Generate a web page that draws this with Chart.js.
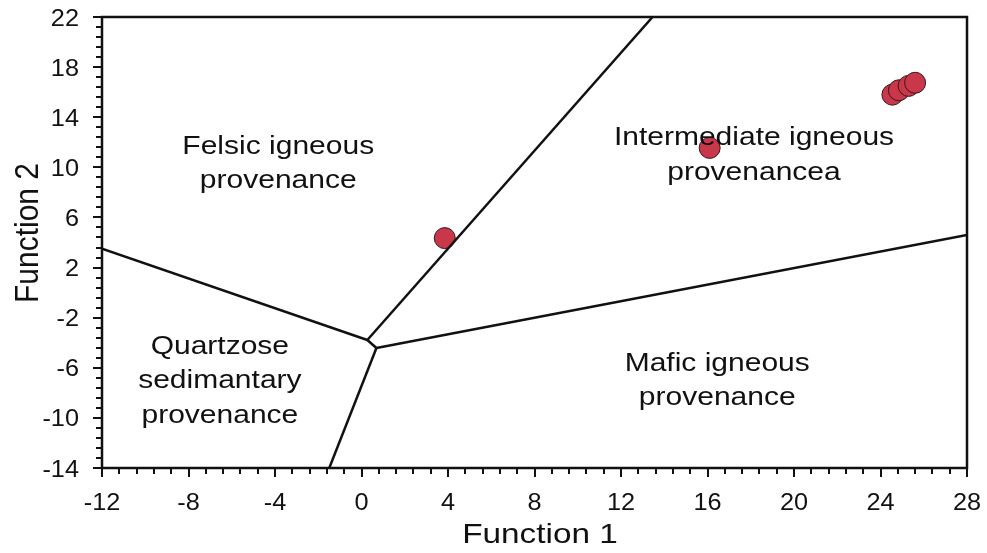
<!DOCTYPE html>
<html>
<head>
<meta charset="utf-8">
<script src="https://cdn.jsdelivr.net/npm/chart.js@4.4.1/dist/chart.umd.min.js"></script>
<style>
    html, body { margin: 0; padding: 0; background: #fff; }
    #wrap { width: 987px; height: 553px; }
</style>
</head>
<body>
<div id="wrap"><canvas id="chart"></canvas></div>
<script>
// Axis ticks
const xTicks = [-12, -8, -4, 0, 4, 8, 12, 16, 20, 24, 28];
const yTicks = [-14, -10, -6, -2, 2, 6, 10, 14, 18, 22];
const minorStep = 0.8;

// Samples (Function 1, Function 2)
const sampleX = [3.85, 16.1, 24.55, 24.85, 25.3, 25.6];
const sampleY = [4.35, 11.55, 15.8, 16.15, 16.5, 16.75];

// Field boundaries
const felsicQuartzX = [-12, 0.27];
const felsicQuartzY = [3.5, -3.78];
const felsicInterX = [0.27, 13.46];
const felsicInterY = [-3.78, 22];
const junctionX = [0.27, 0.69];
const junctionY = [-3.78, -4.42];
const interMaficX = [0.69, 28];
const interMaficY = [-4.42, 4.6];
const quartzMaficX = [0.69, -1.49];
const quartzMaficY = [-4.42, -14];

// Field names
const fieldNames = [
    ['Felsic igneous', 'provenance'],
    ['Intermediate igneous', 'provenancea'],
    ['Quartzose', 'sedimantary', 'provenance'],
    ['Mafic igneous', 'provenance']
];
const fieldX = [-3.85, 18.15, -6.55, 16.45];
const fieldY = [10.25, 10.95, -7.1, -7.05];

const FONT = '"Liberation Sans", Arial, sans-serif';
const toPts = (xs, ys) => xs.map((x, i) => ({ x: x, y: ys[i] }));

const lineSet = (xs, ys) => ({
    data: toPts(xs, ys),
    showLine: true,
    borderColor: '#111',
    borderWidth: 2.5,
    pointRadius: 0,
    fill: false
});

// text drawn a bit wider than the font, like the original
function wideText(ctx, text, x, y, stretch, align) {
    ctx.save();
    ctx.translate(x, y);
    ctx.scale(stretch, 1);
    ctx.textAlign = align || 'center';
    ctx.fillText(text, 0, 0);
    ctx.restore();
}

// Frame, tick marks, tick labels, field names and axis titles
const decor = {
    id: 'decor',
    afterDatasetsDraw(chart) {
        const { ctx, scales: { x, y } } = chart;
        ctx.save();
        ctx.fillStyle = '#111';
        ctx.font = '25px ' + FONT;
        ctx.textBaseline = 'middle';
        fieldNames.forEach((lines, i) => {
            const cx = x.getPixelForValue(fieldX[i]);
            const cy = y.getPixelForValue(fieldY[i]);
            const lh = 34.5;
            lines.forEach((t, j) => {
                wideText(ctx, t, cx, cy + (j - (lines.length - 1) / 2) * lh, 1.2);
            });
        });
        ctx.restore();
    },
    afterDraw(chart) {
        const { ctx, chartArea: a, scales: { x, y } } = chart;
        ctx.save();
        ctx.strokeStyle = '#111';
        ctx.lineWidth = 2.5;
        ctx.strokeRect(a.left, a.top, a.right - a.left, a.bottom - a.top);

        ctx.lineWidth = 2;
        ctx.beginPath();
        for (let i = 0; i <= 50; i++) {
            const v = -12 + i * minorStep;
            const px = Math.round(x.getPixelForValue(v));
            const len = i % 5 === 0 ? 9 : 6;
            ctx.moveTo(px, a.bottom);
            ctx.lineTo(px, a.bottom + len);
        }
        for (let i = 0; i <= 45; i++) {
            const v = -14 + i * minorStep;
            const py = Math.round(y.getPixelForValue(v));
            const len = i % 5 === 0 ? 9 : 6;
            ctx.moveTo(a.left, py);
            ctx.lineTo(a.left - len, py);
        }
        ctx.stroke();

        ctx.fillStyle = '#111';
        ctx.font = '23px ' + FONT;
        ctx.textBaseline = 'alphabetic';
        xTicks.forEach(v => {
            wideText(ctx, String(v), x.getPixelForValue(v), a.bottom + 42, 1.1, 'center');
        });
        yTicks.forEach(v => {
            wideText(ctx, String(v), a.left - 23, y.getPixelForValue(v) + 8.5, 1.1, 'right');
        });

        ctx.font = '28px ' + FONT;
        wideText(ctx, 'Function 1', 540, 543, 1.19, 'center');
        ctx.font = '30px ' + FONT;
        ctx.translate(38, 233);
        ctx.rotate(-Math.PI / 2);
        ctx.scale(1, 1.12);
        ctx.textAlign = 'center';
        ctx.fillText('Function 2', 0, 0);
        ctx.restore();
    }
};

new Chart(document.getElementById('chart'), {
    type: 'scatter',
    data: {
        datasets: [
            lineSet(felsicQuartzX, felsicQuartzY),
            lineSet(felsicInterX, felsicInterY),
            lineSet(junctionX, junctionY),
            lineSet(interMaficX, interMaficY),
            lineSet(quartzMaficX, quartzMaficY),
            {
                data: toPts(sampleX, sampleY),
                pointRadius: 10.5,
                pointBackgroundColor: '#c8374a',
                pointBorderColor: '#3a1518',
                pointBorderWidth: 1
            }
        ]
    },
    options: {
        responsive: true,
        maintainAspectRatio: false,
        animation: false,
        events: [],
        layout: { padding: { top: 17, right: 20, left: 0, bottom: 0 } },
        plugins: {
            legend: { display: false },
            tooltip: { enabled: false }
        },
        scales: {
            x: {
                type: 'linear',
                min: -12,
                max: 28,
                grid: { display: false, drawTicks: false },
                border: { display: false },
                ticks: { display: false },
                afterBuildTicks: s => { s.ticks = xTicks.map(v => ({ value: v })); },
                afterFit: s => { s.height = 85; }
            },
            y: {
                type: 'linear',
                min: -14,
                max: 22,
                grid: { display: false, drawTicks: false },
                border: { display: false },
                ticks: { display: false },
                afterBuildTicks: s => { s.ticks = yTicks.map(v => ({ value: v })); },
                afterFit: s => { s.width = 102; }
            }
        }
    },
    plugins: [decor]
});
</script>
</body>
</html>
